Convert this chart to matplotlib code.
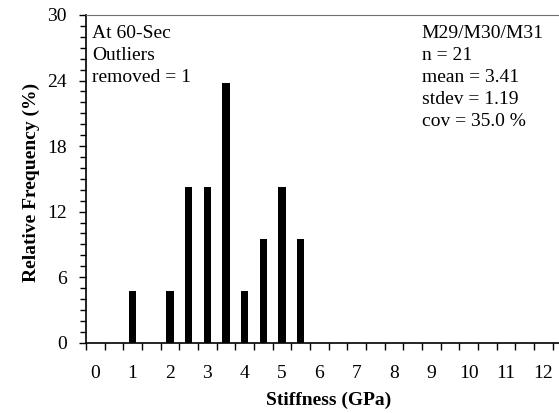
import numpy as np
import matplotlib
matplotlib.use("Agg")
import matplotlib.pyplot as plt
from matplotlib.ticker import FixedLocator, MultipleLocator

plt.rcParams['font.family'] = ['Liberation Serif', 'DejaVu Serif']

# stiffness bins (GPa) and relative frequency (%)
stiffness = [1.0, 2.0, 2.5, 3.0, 3.5, 4.0, 4.5, 5.0, 5.5]
counts = [1, 1, 3, 3, 5, 1, 2, 3, 2]
n_total = 21
rel_freq = [100.0 * c / n_total for c in counts]

x_labels = [str(i) for i in range(13)]
left_note = "At 60-Sec\nOutliers\nremoved = 1"
stats_note = "M29/M30/M31\nn = 21\nmean = 3.41\nstdev = 1.19\ncov = 35.0 %"

fig = plt.figure(figsize=(5.59, 4.13), dpi=100)
ax = fig.add_axes([0.1538, 0.1702, 0.8462, 0.7935])

ax.bar(stiffness, rel_freq, width=0.2, color='black')

ax.set_xlim(-0.25, 12.42)
ax.set_ylim(0, 30)

# labels sit on integers, tick marks sit between bins
ax.xaxis.set_major_locator(FixedLocator(range(13)))
ax.set_xticklabels(x_labels)
ax.xaxis.set_minor_locator(FixedLocator(np.arange(-0.25, 12.5, 0.5)))
ax.tick_params(axis='x', which='major', length=0, pad=16, labelsize=14)
ax.tick_params(axis='x', which='minor', length=5, width=1, direction='out')

ax.yaxis.set_major_locator(MultipleLocator(6))
ax.yaxis.set_minor_locator(MultipleLocator(1))
ax.tick_params(axis='y', which='major', length=5, width=1, direction='out', pad=9, labelsize=14)
ax.tick_params(axis='y', which='minor', length=4, width=1, direction='out')

ax.spines['right'].set_visible(False)
ax.spines['top'].set_color('#707070')
ax.spines['left'].set_linewidth(1.2)
ax.spines['bottom'].set_linewidth(1.2)

ax.set_xlabel('Stiffness (GPa)', fontsize=14, fontweight='bold')
ax.set_ylabel('Relative Frequency (%)', fontsize=14, fontweight='bold')
ax.xaxis.set_label_coords(0.512, -0.148)
ax.yaxis.set_label_coords(-0.097, 0.49)

ax.text(0.0127, 0.968, left_note, transform=ax.transAxes, ha='left', va='top',
        fontsize=14, linespacing=1.38)
ax.text(0.71, 0.968, stats_note, transform=ax.transAxes, ha='left', va='top',
        fontsize=14, linespacing=1.38)

fig.savefig('out.png', dpi=100)
